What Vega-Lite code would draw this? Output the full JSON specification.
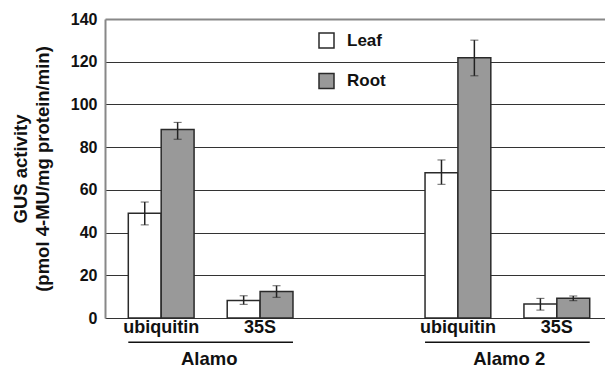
{
  "$schema": "https://vega.github.io/schema/vega-lite/v6.json",
  "width": 500,
  "height": 299,
  "autosize": {"type": "none"},
  "padding": {"left": 105, "top": 19, "right": 0, "bottom": 50},
  "background": "white",
  "config": {
    "font": "Liberation Sans",
    "view": {"stroke": null},
    "axis": {"labelColor": "#111", "titleColor": "#111"}
  },
  "layer": [
    {
      "layer": [
        {
          "data": {"name": "bars", "values": [
            {"group": "Alamo", "construct": "Alamo|ubiquitin", "tissue": "Leaf", "value": 49.1, "lo": 43.6, "hi": 54.3},
            {"group": "Alamo", "construct": "Alamo|ubiquitin", "tissue": "Root", "value": 88.3, "lo": 83.7, "hi": 91.6},
            {"group": "Alamo", "construct": "Alamo|35S", "tissue": "Leaf", "value": 8.2, "lo": 6.4, "hi": 10.4},
            {"group": "Alamo", "construct": "Alamo|35S", "tissue": "Root", "value": 12.4, "lo": 9.7, "hi": 15.1},
            {"group": "Alamo 2", "construct": "Alamo 2|ubiquitin", "tissue": "Leaf", "value": 68.0, "lo": 62.6, "hi": 74.0},
            {"group": "Alamo 2", "construct": "Alamo 2|ubiquitin", "tissue": "Root", "value": 121.9, "lo": 113.4, "hi": 130.1},
            {"group": "Alamo 2", "construct": "Alamo 2|35S", "tissue": "Leaf", "value": 6.5, "lo": 3.7, "hi": 9.2},
            {"group": "Alamo 2", "construct": "Alamo 2|35S", "tissue": "Root", "value": 9.2, "lo": 8.1, "hi": 10.3}
          ]},
          "layer": [
            {
              "mark": {"type": "bar", "stroke": "#2a2a2a", "strokeWidth": 1.5},
              "encoding": {
                "x": {"field": "construct", "type": "nominal"},
                "xOffset": {"field": "tissue", "type": "nominal", "scale": {"domain": ["Leaf", "Root"], "paddingInner": 0, "paddingOuter": 0}},
                "y": {"field": "value", "type": "quantitative"},
                "fill": {
                  "field": "tissue", "type": "nominal",
                  "scale": {"domain": ["Leaf", "Root"], "range": ["#ffffff", "#999999"]},
                  "legend": {
                    "orient": "none", "legendX": 213, "legendY": 13, "title": null,
                    "symbolType": "square", "symbolSize": 225, "symbolStrokeColor": "#2a2a2a", "symbolStrokeWidth": 1.5,
                    "labelFontSize": 17, "labelFontWeight": "bold", "labelColor": "#111", "labelOffset": 12, "rowPadding": 19.5
                  }
                }
              }
            },
            {
              "mark": {"type": "errorbar", "ticks": {"size": 8, "color": "#222", "strokeWidth": 1.5}, "rule": {"color": "#222", "strokeWidth": 1.5}},
              "encoding": {
                "x": {"field": "construct", "type": "nominal"},
                "xOffset": {"field": "tissue", "type": "nominal"},
                "y": {"field": "lo", "type": "quantitative"},
                "y2": {"field": "hi"}
              }
            }
          ]
        },
        {
          "data": {"values": [
            {"from": "Alamo|ubiquitin", "to": "Alamo|35S"},
            {"from": "Alamo 2|ubiquitin", "to": "Alamo 2|35S"}
          ]},
          "mark": {"type": "rule", "color": "#111", "strokeWidth": 1.5},
          "encoding": {
            "x": {"field": "from", "type": "nominal", "bandPosition": 0},
            "x2": {"field": "to", "bandPosition": 1},
            "y": {"datum": -11.4}
          }
        }
      ],
      "encoding": {
        "x": {
          "field": "construct", "type": "nominal",
          "scale": {"domain": ["Alamo|ubiquitin", "Alamo|35S", "gap", "Alamo 2|ubiquitin", "Alamo 2|35S"], "paddingInner": 0.335, "paddingOuter": 0.195, "align": 0.604},
          "axis": {
            "title": null, "domain": false, "ticks": false, "grid": false, "labelAngle": 0,
            "labelExpr": "indexof(datum.label, '|') > 0 ? split(datum.label, '|')[1] : ''",
            "labelFontSize": 18, "labelFontWeight": "bold", "labelPadding": 0
          }
        },
        "y": {
          "type": "quantitative",
          "scale": {"domain": [0, 140], "nice": false},
          "axis": {
            "title": ["GUS activity", "(pmol 4-MU/mg protein/min)"],
            "values": [0, 20, 40, 60, 80, 100, 120, 140],
            "ticks": false,
            "labelFontSize": 16, "labelFontWeight": "bold", "labelPadding": 8,
            "domainColor": "#888", "domainWidth": 2,
            "grid": true,
            "gridColor": {"condition": {"test": "datum.value === 140", "value": "#888"}, "value": "#333"},
            "gridWidth": {"condition": {"test": "datum.value === 140", "value": 2}, "value": 1.2},
            "gridOpacity": 1,
            "titleFontSize": 18.5, "titleFontWeight": "bold", "titleLineHeight": 22, "titlePadding": 18
          }
        }
      }
    },
    {
      "data": {"values": [{"group": "Alamo"}, {"group": "Alamo 2"}]},
      "mark": {"type": "text", "fontSize": 18.5, "fontWeight": "bold", "color": "#111", "baseline": "alphabetic"},
      "encoding": {
        "x": {
          "field": "group", "type": "nominal",
          "scale": {"type": "point", "domain": ["Alamo", "s1", "s2", "Alamo 2"], "padding": 1.03, "align": 0.521},
          "axis": null
        },
        "y": {"datum": -21.9},
        "text": {"field": "group"}
      }
    }
  ],
  "resolve": {"scale": {"x": "independent"}}
}
